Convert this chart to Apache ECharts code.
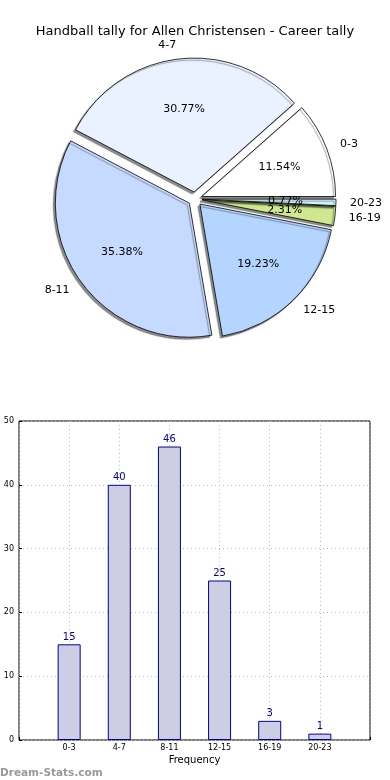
<!DOCTYPE html>
<html><head><meta charset="utf-8">
<script src="https://cdn.jsdelivr.net/npm/echarts@6/dist/echarts.min.js"></script>
<style>html,body{margin:0;padding:0;background:#fff}#c{width:390px;height:780px}</style>
</head><body><div id="c"></div>
<script>
var categories = ['0-3', '4-7', '8-11', '12-15', '16-19', '20-23'];
var counts = [15, 40, 46, 25, 3, 1];
var pieColors = ['#ffffff', '#eaf2ff', '#c6d9ff', '#b3d5ff', '#cfe88f', '#d0f4ff'];
var yTicks = [0, 10, 20, 30, 40, 50];
var titleText = 'Handball tally for Allen Christensen - Career tally';

var font = 'DejaVu Sans';
var R = 134;
var pieMain = categories.map(function (c, i) {
  return { name: c, value: counts[i], selected: true, itemStyle: { color: pieColors[i] } };
});
var pieLbl = categories.map(function (c, i) {
  return { name: c, value: counts[i], selected: true };
});
var xCats = [''].concat(categories).concat(['']);
var barData = [null].concat(counts).concat([null]);

var chart = echarts.init(document.getElementById('c'), null, { renderer: 'canvas' });
chart.setOption({
  animation: false,
  backgroundColor: '#fff',
  title: [
    { text: titleText, left: 'center', top: 20, textStyle: { fontFamily: font, fontSize: 13, fontWeight: 'normal', color: '#000' } },
    { text: 'Dream-Stats.com', left: -5, top: 763, textStyle: { fontFamily: font, fontSize: 10.5, fontWeight: 'bold', color: '#999' } }
  ],
  grid: { left: 19, right: 20, top: 421, bottom: 40, show: true, borderColor: '#000', borderWidth: 1, backgroundColor: 'transparent' },
  xAxis: {
    type: 'category', data: xCats, boundaryGap: false,
    name: 'Frequency', nameLocation: 'middle', nameGap: 15,
    nameTextStyle: { fontFamily: font, fontSize: 10, color: '#000' },
    axisLine: { show: false },
    axisTick: { show: true, inside: true, length: 3, lineStyle: { color: '#000' } },
    axisLabel: { fontFamily: font, fontSize: 8, color: '#000', margin: 4, interval: 0 },
    splitLine: { show: true, lineStyle: { color: '#bbb', type: [1, 3] } }
  },
  yAxis: {
    type: 'value', min: 0, max: 50, interval: 10,
    axisLine: { show: false },
    axisTick: { show: true, inside: true, length: 3, lineStyle: { color: '#000' } },
    axisLabel: { fontFamily: font, fontSize: 8, color: '#000', margin: 5 },
    splitLine: { show: true, lineStyle: { color: '#bbb', type: [1, 3] } }
  },
  series: [
    {
      type: 'pie', center: [195, 199], radius: [0, R], startAngle: 0, clockwise: false,
      selectedMode: 'multiple', selectedOffset: 7, silent: true,
      data: pieMain,
      itemStyle: { borderColor: '#000', borderWidth: 0.8, shadowColor: 'rgba(0,0,0,0.45)', shadowOffsetX: -2, shadowOffsetY: 2, shadowBlur: 1 },
      select: { itemStyle: { borderColor: '#000', borderWidth: 0.8 } },
      label: { show: true, position: 'outside', formatter: '{b}', fontFamily: font, fontSize: 11, color: '#000', distanceToLabelLine: 0 },
      labelLine: { show: false, length: 14, length2: 0 },
      avoidLabelOverlap: true, z: 2
    },
    {
      type: 'pie', center: [195, 199], radius: [R * 0.2, R], startAngle: 0, clockwise: false,
      selectedMode: 'multiple', selectedOffset: 7, silent: true,
      data: pieLbl, avoidLabelOverlap: false,
      itemStyle: { color: 'rgba(0,0,0,0)', borderWidth: 0 },
      select: { itemStyle: { color: 'rgba(0,0,0,0)', borderWidth: 0 } },
      label: { show: true, position: 'inside', formatter: '{d}%', fontFamily: font, fontSize: 11, color: '#000' },
      labelLayout: { hideOverlap: false },
      labelLine: { show: false }, z: 3
    },
    {
      type: 'bar', data: barData, barWidth: 23,
      itemStyle: { color: '#cdcde4', borderColor: '#000099', borderWidth: 1 },
      label: { show: true, position: 'top', distance: 2, fontFamily: font, fontSize: 10, color: '#000099' }
    }
  ]
});
</script></body></html>
